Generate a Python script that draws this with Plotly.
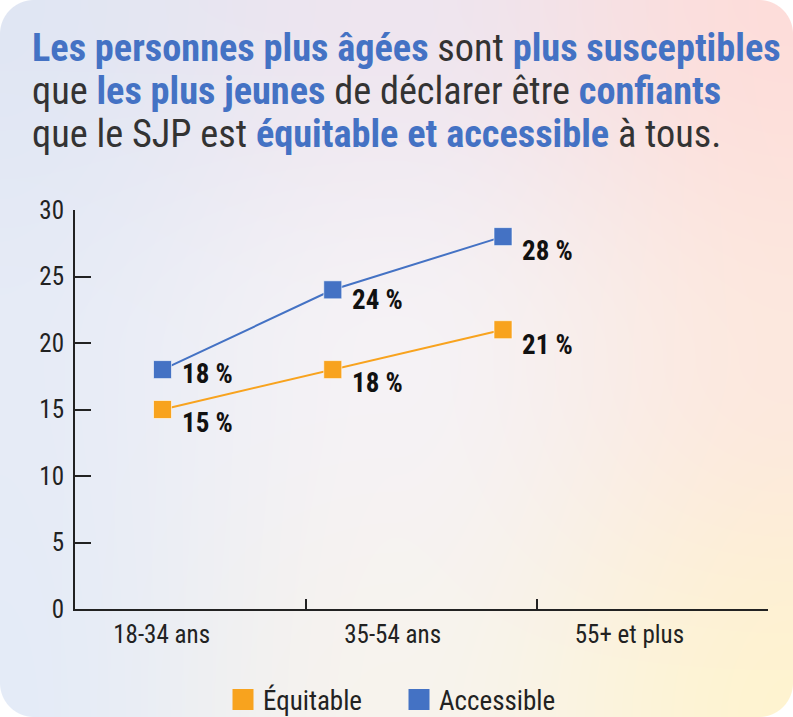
import base64
import struct
import zlib

import numpy as np
import plotly.graph_objects as go

# ---------------- data ----------------
categories = ["18-34 ans", "35-54 ans", "55+ et plus"]
series_names = ["Équitable", "Accessible"]
equitable = [15, 18, 21]
accessible = [18, 24, 28]
y_ticks = [0, 5, 10, 15, 20, 25, 30]

# ---------------- style ----------------
W, H = 793, 717
BLUE = "#4472C4"
ORANGE = "#F8A31E"
DARK = "#222222"
TEXT = "#333333"
FONT = "Roboto Condensed, Liberation Sans Narrow, Roboto, sans-serif"

ML, MR, MT, MB = 75, 25, 210, 108
PW, PH = W - ML - MR, H - MT - MB

# label offsets (px below the marker centre) for each series
label_dy = {"Équitable": [13, 13, 15], "Accessible": [4, 10, 14]}
# positions of category labels on the band axis (0..3)
label_pos = [0.375, 1.375, 2.4]


def px_x(X):
    return (X - ML) / PW


def px_y(Y):
    return (H - MB - Y) / PH


# ---------------- background gradient image ----------------
def make_bg():
    ys, xs = np.mgrid[0:H, 0:W].astype(float)
    u = xs / (W - 1)
    v = ys / (H - 1)
    grid = np.array([
        [[224, 230, 243], [238, 229, 239], [253, 221, 218]],
        [[230, 235, 246], [245, 242, 245], [252, 232, 222]],
        [[228, 235, 247], [247, 243, 237], [254, 243, 208]],
    ], dtype=float)
    gx, gy = u * 2, v * 2
    ix = np.clip(np.floor(gx).astype(int), 0, 1)
    iy = np.clip(np.floor(gy).astype(int), 0, 1)
    fx = (gx - ix)[..., None]
    fy = (gy - iy)[..., None]
    fx = fx * fx * (3 - 2 * fx)
    fy = fy * fy * (3 - 2 * fy)
    c = (grid[iy, ix] * (1 - fx) * (1 - fy) + grid[iy, ix + 1] * fx * (1 - fy)
         + grid[iy + 1, ix] * (1 - fx) * fy + grid[iy + 1, ix + 1] * fx * fy)
    R = 34.0
    cx = np.clip(xs + 0.5, R, W - R)
    cy = np.clip(ys + 0.5, R, H - R)
    d = np.hypot(xs + 0.5 - cx, ys + 0.5 - cy)
    a = np.clip(R - d + 0.5, 0, 1) * 255
    img = np.dstack([c, a]).round().astype(np.uint8)
    s = img.astype(np.int16)
    s[:, 1:, :] -= img[:, :-1, :].astype(np.int16)
    s = (s % 256).astype(np.uint8)
    raw = b"".join(b"\x01" + s[y].tobytes() for y in range(H))

    def chunk(t, data):
        return (struct.pack(">I", len(data)) + t + data
                + struct.pack(">I", zlib.crc32(t + data) & 0xFFFFFFFF))

    png = (b"\x89PNG\r\n\x1a\n"
           + chunk(b"IHDR", struct.pack(">IIBBBBB", W, H, 8, 6, 0, 0, 0))
           + chunk(b"IDAT", zlib.compress(raw, 9))
           + chunk(b"IEND", b""))
    return "data:image/png;base64," + base64.b64encode(png).decode()


# ---------------- figure ----------------
fig = go.Figure()
idx = list(range(len(categories)))
series = {"Équitable": (equitable, ORANGE), "Accessible": (accessible, BLUE)}

for name, (vals, col) in series.items():
    fig.add_trace(go.Scatter(
        x=idx, y=vals, mode="lines+markers", name=name, showlegend=False,
        line=dict(color=col, width=2),
        marker=dict(symbol="square", size=18, color=col,
                    line=dict(color="rgba(255,255,255,0.6)", width=1)),
        hoverinfo="skip",
    ))
    for i, v in enumerate(vals):
        fig.add_annotation(
            x=i, y=v, xref="x", yref="y", text=f"<b>{v} %</b>",
            showarrow=False, xanchor="left", yanchor="middle",
            xshift=17, yshift=-label_dy[name][i],
            font=dict(family=FONT, size=27, color="#111111"),
        )

# legend-only entries
for name, (vals, col) in series.items():
    fig.add_trace(go.Scatter(
        x=[None], y=[None], mode="markers", name=name,
        marker=dict(symbol="square", size=16, color=col,
                    line=dict(color=col, width=5)),
    ))

# empty traces so the overlay axes are drawn
fig.add_trace(go.Scatter(x=[None], y=[None], xaxis="x2", showlegend=False, hoverinfo="skip"))
fig.add_trace(go.Scatter(x=[None], y=[None], xaxis="x3", showlegend=False, hoverinfo="skip"))

blue_span = "<span style='color:%s'><b>%%s</b></span>" % BLUE
title_lines = [
    blue_span % "Les personnes plus âgées" + " sont " + blue_span % "plus susceptibles",
    "que " + blue_span % "les plus jeunes" + " de déclarer être " + blue_span % "confiants",
    "que le SJP est " + blue_span % "équitable et accessible" + " à tous.",
]
for k, line in enumerate(title_lines):
    fig.add_annotation(
        x=px_x(30), y=px_y(47 + 43 * k), xref="paper", yref="paper",
        text=line, showarrow=False, xanchor="left", yanchor="middle",
        font=dict(family=FONT, size=38.3, color=TEXT), align="left",
    )

n = len(categories)
step = 170.25
x0 = (ML - 162.5) / step
x1 = (W - MR - 162.5) / step

fig.update_layout(
    width=W, height=H,
    margin=dict(l=ML, r=MR, t=MT, b=MB, autoexpand=False),
    paper_bgcolor="white",
    plot_bgcolor="rgba(0,0,0,0)",
    font=dict(family=FONT, size=25, color=DARK),
    images=[dict(
        source=make_bg(), xref="paper", yref="paper",
        x=px_x(0), y=px_y(0), sizex=W / PW, sizey=H / PH,
        xanchor="left", yanchor="top", sizing="stretch", layer="below",
    )],
    xaxis=dict(range=[x0, x1], visible=False, fixedrange=True),
    xaxis2=dict(
        overlaying="x", anchor="y", range=[0, n],
        tickvals=list(range(n + 1)), showticklabels=False,
        ticks="inside", ticklen=10, tickwidth=2, tickcolor=DARK,
        showline=True, linewidth=2, linecolor=DARK,
        showgrid=False, zeroline=False, fixedrange=True,
    ),
    xaxis3=dict(
        overlaying="x", anchor="y", range=[0, n],
        tickvals=label_pos, ticktext=categories, ticks="",
        showline=False, showgrid=False, zeroline=False,
        tickfont=dict(family=FONT, size=25, color=DARK),
        ticklabelstandoff=8, fixedrange=True,
    ),
    yaxis=dict(
        range=[0, 30], tickvals=y_ticks, ticks="inside", ticklen=16,
        tickwidth=2, tickcolor=DARK, showline=True, linewidth=2,
        linecolor=DARK, showgrid=False, zeroline=False,
        tickfont=dict(family=FONT, size=25, color=DARK),
        ticklabelstandoff=4, fixedrange=True,
    ),
    legend=dict(
        orientation="h", x=px_x(223), xanchor="left",
        y=px_y(700), yanchor="middle",
        font=dict(family=FONT, size=27, color=DARK),
        bgcolor="rgba(0,0,0,0)", entrywidth=131, entrywidthmode="pixels",
    ),
    showlegend=True,
)

fig.write_html("out.html", config={"displayModeBar": False},
               post_script="document.body.style.margin='0px';")
